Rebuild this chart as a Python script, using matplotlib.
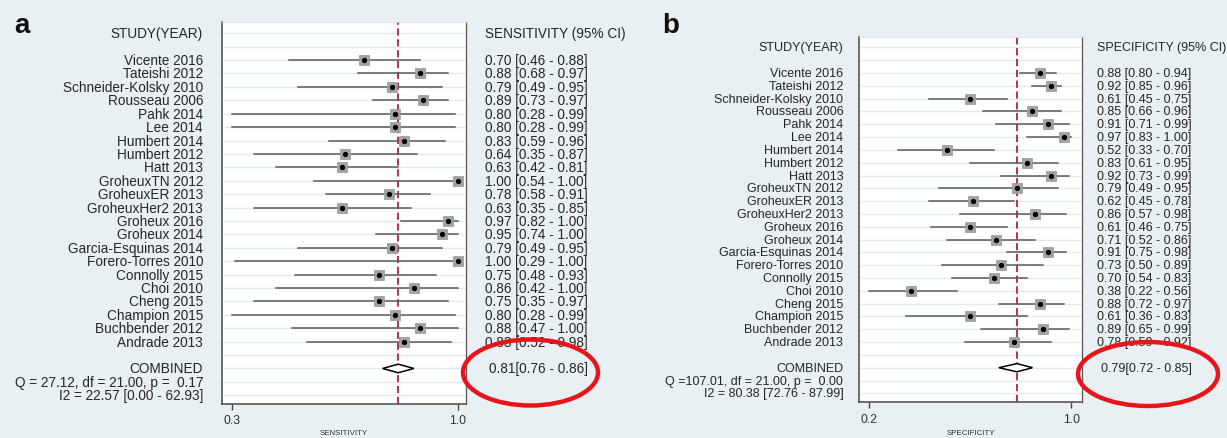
import matplotlib
matplotlib.use("Agg")
import matplotlib.pyplot as plt
from matplotlib.transforms import blended_transform_factory
from matplotlib.patches import Ellipse

# ---------------- data ----------------
studies = ["Vicente 2016", "Tateishi 2012", "Schneider-Kolsky 2010", "Rousseau 2006",
           "Pahk 2014", "Lee 2014", "Humbert 2014", "Humbert 2012", "Hatt 2013",
           "GroheuxTN 2012", "GroheuxER 2013", "GroheuxHer2 2013", "Groheux 2016",
           "Groheux 2014", "Garcia-Esquinas 2014", "Forero-Torres 2010", "Connolly 2015",
           "Choi 2010", "Cheng 2015", "Champion 2015", "Buchbender 2012", "Andrade 2013"]

sens = [0.70, 0.88, 0.79, 0.89, 0.80, 0.80, 0.83, 0.64, 0.63, 1.00, 0.78,
        0.63, 0.97, 0.95, 0.79, 1.00, 0.75, 0.86, 0.75, 0.80, 0.88, 0.83]
sens_lo = [0.46, 0.68, 0.49, 0.73, 0.28, 0.28, 0.59, 0.35, 0.42, 0.54, 0.58,
           0.35, 0.82, 0.74, 0.49, 0.29, 0.48, 0.42, 0.35, 0.28, 0.47, 0.52]
sens_hi = [0.88, 0.97, 0.95, 0.97, 0.99, 0.99, 0.96, 0.87, 0.81, 1.00, 0.91,
           0.85, 1.00, 1.00, 0.95, 1.00, 0.93, 1.00, 0.97, 0.99, 1.00, 0.98]
sens_comb = (0.81, 0.76, 0.86)

spec = [0.88, 0.92, 0.61, 0.85, 0.91, 0.97, 0.52, 0.83, 0.92, 0.79, 0.62,
        0.86, 0.61, 0.71, 0.91, 0.73, 0.70, 0.38, 0.88, 0.61, 0.89, 0.78]
spec_lo = [0.80, 0.85, 0.45, 0.66, 0.71, 0.83, 0.33, 0.61, 0.73, 0.49, 0.45,
           0.57, 0.46, 0.52, 0.75, 0.50, 0.54, 0.22, 0.72, 0.36, 0.65, 0.59]
spec_hi = [0.94, 0.96, 0.75, 0.96, 0.99, 1.00, 0.70, 0.95, 0.99, 0.95, 0.78,
           0.98, 0.75, 0.86, 0.98, 0.89, 0.83, 0.56, 0.97, 0.83, 0.99, 0.92]
spec_comb = (0.79, 0.72, 0.85)

sens_stats = ["Q = 27.12, df = 21.00, p =  0.17", "I2 = 22.57 [0.00 - 62.93]"]
spec_stats = ["Q =107.01, df = 21.00, p =  0.00", "I2 = 80.38 [72.76 - 87.99]"]

# ---------------- style ----------------
W, H = 1227, 439
BG = "#e8f0f3"
TXT = "#262626"
plt.rcParams["font.family"] = ["Liberation Sans", "DejaVu Sans"]

fig = plt.figure(figsize=(W / 100, H / 100), dpi=100, facecolor=BG)


def panel(rect_px, xlim, ylim, est, lo, hi, comb, stats, lab_x, val_x, cval_x,
          header, xlabel, fs, letter, letter_x):
    l, r, t, b = rect_px
    ax = fig.add_axes([l / W, 1 - b / H, (r - l) / W, (b - t) / H])
    ax.set_facecolor("white")
    ax.set_xlim(*xlim)
    ax.set_ylim(*ylim)
    n = len(est)
    ys = [i + 2 for i in range(n)]
    yc, yq, yi = n + 3, n + 4, n + 5
    for g in range(0, n + 6):
        ax.axhline(g, color="#e3e9ec", lw=1.0, zorder=0)
    ax.axvline(comb[0], color="#b3223a", lw=1.3, ls=(0, (4, 2)), zorder=1)
    for y, e, a, c in zip(ys, est, lo, hi):
        ax.plot([a, c], [y, y], color="#5a5a5a", lw=1.1, zorder=2)
    ax.plot(est, ys, ls="none", marker="s", ms=7.2, color="#a3a3a3", mec="#959595",
            mew=0.5, zorder=3)
    ax.plot(est, ys, ls="none", marker="o", ms=2.8, color="black", zorder=4)
    h = 0.32
    ax.fill([comb[1], comb[0], comb[2], comb[0]], [yc, yc - h, yc, yc + h],
            facecolor="white", edgecolor="black", lw=1.1, zorder=4)
    # axes styling
    ax.set_yticks([])
    tks = [min(lo), 1.0]
    ax.set_xticks(tks)
    ax.set_xticklabels([f"{v:.1f}" for v in tks], fontsize=8.8, color="#333333")
    ax.tick_params(axis="x", direction="out", length=4.5, width=1, color="#444444", pad=3)
    for s in ["left", "bottom", "right"]:
        ax.spines[s].set_color("#555555")
        ax.spines[s].set_linewidth(1.2)
    ax.spines["right"].set_linewidth(0.9)
    ax.spines["top"].set_color("#dddddd")
    ax.spines["top"].set_linewidth(0.6)

    tr = blended_transform_factory(fig.transFigure, ax.transData)
    kw = dict(transform=tr, fontsize=fs, color=TXT, va="center", clip_on=False)
    ax.text(lab_x / W, 0, "STUDY(YEAR)", ha="right", **kw)
    ax.text(val_x / W, 0, header, ha="left", **kw)
    for y, s, e, a, c in zip(ys, studies, est, lo, hi):
        ax.text(lab_x / W, y, s, ha="right", **kw)
        ax.text(val_x / W, y, f"{e:.2f} [{a:.2f} - {c:.2f}]", ha="left", **kw)
    ax.text(lab_x / W, yc, "COMBINED", ha="right", **kw)
    ax.text(lab_x / W, yq, stats[0], ha="right", **kw)
    ax.text(lab_x / W, yi, stats[1], ha="right", **kw)
    ax.text(cval_x / W, yc, f"{comb[0]:.2f}[{comb[1]:.2f} - {comb[2]:.2f}]",
            ha="left", **kw)
    fig.text((l + r) / 2 / W, 1 - 433.5 / H, xlabel, ha="center", va="center",
             fontsize=5.7, color="#333333")
    fig.text(letter_x / W, 1 - 33 / H, letter, ha="left", va="baseline",
             fontsize=20, fontweight="bold", color="#111111")
    return ax


panel((221.7, 465.7, 22.7, 405.0), (0.246, 1.0256), (27.65, -0.86),
      sens, sens_lo, sens_hi, sens_comb, sens_stats, 203, 485, 489,
      "SENSITIVITY (95% CI)", "SENSITIVITY", 9.8, "a", 14)
panel((859.3, 1081.7, 38.0, 403.3), (0.1814, 1.040), (27.7, -0.81),
      spec, spec_lo, spec_hi, spec_comb, spec_stats, 843.3, 1097, 1101,
      "SPECIFICITY (95% CI)", "SPECIFICITY", 9.0, "b", 662)

# red highlight ellipses
for cx, cy, ew, eh in [(530.5, 373.5, 135, 66), (1148, 375, 140, 64)]:
    fig.add_artist(Ellipse((cx / W, 1 - cy / H), ew / W, eh / H, transform=fig.transFigure,
                           fill=False, edgecolor="#e8141c", lw=3.2, zorder=10))

fig.savefig("out.png", dpi=100, facecolor=BG)
